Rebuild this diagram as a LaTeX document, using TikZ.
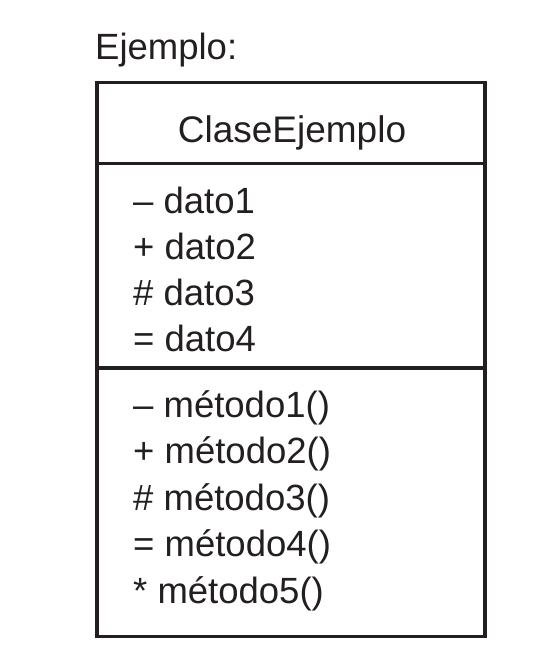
\documentclass[tikz,border=0pt]{standalone}
\usepackage{fontspec}
\setmainfont{Liberation Sans}
\definecolor{ink}{HTML}{231F20}
\begin{document}
\begin{tikzpicture}[x=1pt,y=-1pt,
  txt/.style={inner sep=0pt,anchor=base west,text=ink,font=\fontsize{36.5}{40}\selectfont},
  ttl/.style={inner sep=0pt,anchor=base,text=ink,font=\fontsize{37}{40}\selectfont},
  frame/.style={draw=ink,line width=3.5pt}]
\useasboundingbox (0,0) rectangle (542,652);
\node[txt] (lbl) at (95,60) {Ejemplo:};
\draw[frame] (97,82.5) rectangle (485,636.5);
\draw[frame] (97,163.5) -- (485,163.5);
\draw[frame] (97,368) -- (485,368);
\node[ttl] (name) at (292,143) {ClaseEjemplo};
\node[txt] (a1) at (133,213) {– dato1};
\node[txt] (a2) at (133,259.5) {+ dato2};
\node[txt] (a3) at (133,305.5) {\# dato3};
\node[txt] (a4) at (133,351.5) {= dato4};
\node[txt] (m1) at (133,417) {– método1()};
\node[txt] (m2) at (133,463.5) {+ método2()};
\node[txt] (m3) at (133,510) {\# método3()};
\node[txt] (m4) at (133,556.5) {= método4()};
\node[txt] (m5) at (133,603) {* método5()};
\end{tikzpicture}
\end{document}
